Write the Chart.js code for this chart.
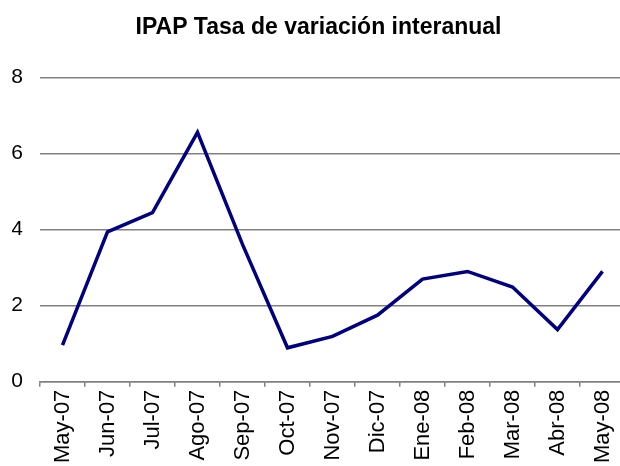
<!DOCTYPE html>
<html>
<head>
<meta charset="utf-8">
<script src="https://cdn.jsdelivr.net/npm/chart.js@4/dist/chart.umd.min.js"></script>
<style>
html,body{margin:0;padding:0;background:#fff;overflow:hidden;}
#wrap{width:630px;height:466px;}
</style>
</head>
<body>
<div id="wrap"><canvas id="c" width="630" height="466"></canvas></div>
<script>
const titleText = 'IPAP Tasa de variación interanual';
const categories = ['May-07','Jun-07','Jul-07','Ago-07','Sep-07','Oct-07','Nov-07','Dic-07','Ene-08','Feb-08','Mar-08','Abr-08','May-08'];
const tasaValues = [0.96, 3.94, 4.45, 6.56, 3.61, 0.89, 1.19, 1.75, 2.70, 2.90, 2.49, 1.37, 2.90];
const yTicks = [0, 2, 4, 6, 8];

new Chart(document.getElementById('c'), {
  type: 'line',
  data: {
    labels: categories,
    datasets: [{
      label: 'IPAP',
      data: tasaValues,
      borderColor: '#000080',
      backgroundColor: '#000080',
      borderWidth: 3.5,
      pointRadius: 0,
      tension: 0,
      fill: false
    }]
  },
  options: {
    responsive: false,
    animation: false,
    layout: { padding: { left: 12, right: 5, top: 0, bottom: 0 } },
    plugins: {
      legend: { display: false },
      tooltip: { enabled: false },
      title: {
        display: true,
        text: titleText,
        color: '#000',
        font: { family: '"Liberation Sans", Arial, sans-serif', size: 23, weight: 'bold' },
        padding: { top: 14, bottom: 36 }
      }
    },
    scales: {
      x: {
        offset: true,
        grid: { display: true, drawOnChartArea: false, drawTicks: true, tickLength: 5, color: '#808080', lineWidth: 1.5, offset: true },
        border: { display: true, color: '#808080', width: 1.5 },
        ticks: {
          color: '#000',
          font: { family: '"Liberation Sans", Arial, sans-serif', size: 22 },
          maxRotation: 90, minRotation: 90,
          padding: 3,
          autoSkip: false
        },
        afterFit: (s) => { s.paddingLeft = 0; s.paddingRight = 0; }
      },
      y: {
        min: 0, max: 8,
        afterBuildTicks: (axis) => { axis.ticks = yTicks.map(v => ({ value: v })); },
        grid: { color: '#808080', lineWidth: 1.5, drawTicks: false },
        border: { display: false },
        ticks: {
          color: '#000',
          font: { family: '"Liberation Sans", Arial, sans-serif', size: 21 },
          padding: 17
        },
        afterFit: (s) => { s.width = 28; }
      }
    }
  }
});
</script>
</body>
</html>
